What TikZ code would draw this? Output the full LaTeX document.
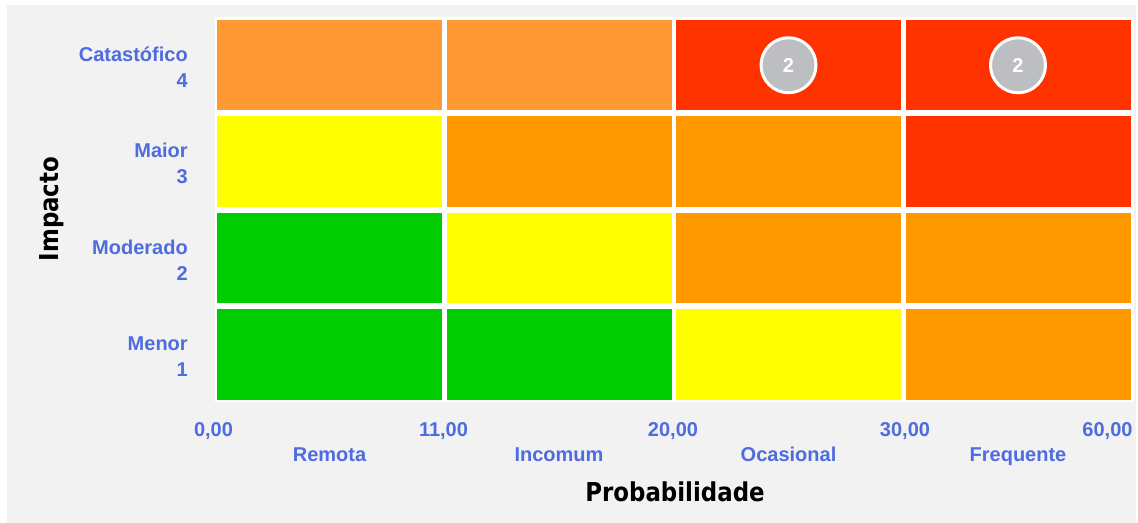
\documentclass[tikz,border=0pt]{standalone}
\usepackage{fontspec}
\setmainfont{Liberation Sans}
\newfontfamily\titlefont[FakeStretch=0.88]{DejaVu Sans}
\definecolor{bggray}{RGB}{242,242,242}
\definecolor{axisblue}{RGB}{78,108,224}
\definecolor{lightorange}{RGB}{255,153,51}
\definecolor{riskred}{RGB}{255,51,0}
\definecolor{riskyellow}{RGB}{255,255,0}
\definecolor{riskorange}{RGB}{255,153,0}
\definecolor{riskgreen}{RGB}{0,204,0}
\definecolor{badgegray}{RGB}{189,190,194}

\begin{document}
\begin{tikzpicture}[x=0.75pt, y=0.75pt]
\tikzstyle{every node}+=[inner sep=0pt]
\tikzstyle{axislabel}=[font=\fontsize{15}{19.5}\selectfont\bfseries, text=axisblue]
\tikzstyle{ticklabel}=[axislabel, anchor=base]
\tikzstyle{rowlabel}=[axislabel, anchor=east, align=right]
\tikzstyle{title}=[font=\titlefont\fontsize{19.5}{24}\selectfont\bfseries, text=black]
\tikzstyle{badge}=[draw=white, line width=2.25pt, fill=badgegray]
\tikzstyle{badgetext}=[font=\fontsize{15}{16}\selectfont\bfseries, text=white]
\useasboundingbox (0,0) rectangle (1138,-523);
\fill [white] (0,0) rectangle (1138,-523);
\fill [bggray] (7,-5) rectangle (1136,-523);
\fill [white] (214.5,-17.5) rectangle (1133.5,-402.5);
% Catastofico
\fill [lightorange] (217,-20) rectangle (442,-110.5);
\fill [lightorange] (446.5,-20) rectangle (671.5,-110.5);
\fill [riskred] (676,-20) rectangle (901,-110.5);
\fill [riskred] (905.5,-20) rectangle (1130.5,-110.5);
% Maior
\fill [riskyellow] (217,-116.5) rectangle (442,-207);
\fill [riskorange] (446.5,-116.5) rectangle (671.5,-207);
\fill [riskorange] (676,-116.5) rectangle (901,-207);
\fill [riskred] (905.5,-116.5) rectangle (1130.5,-207);
% Moderado
\fill [riskgreen] (217,-213) rectangle (442,-303.5);
\fill [riskyellow] (446.5,-213) rectangle (671.5,-303.5);
\fill [riskorange] (676,-213) rectangle (901,-303.5);
\fill [riskorange] (905.5,-213) rectangle (1130.5,-303.5);
% Menor
\fill [riskgreen] (217,-309.5) rectangle (442,-400);
\fill [riskgreen] (446.5,-309.5) rectangle (671.5,-400);
\fill [riskyellow] (676,-309.5) rectangle (901,-400);
\fill [riskorange] (905.5,-309.5) rectangle (1130.5,-400);
% badges
\draw [badge] (788.5,-65.25) circle (27.5);
\draw (788.5,-65.25) node [badgetext] (badgeA) {2};
\draw [badge] (1018,-65.25) circle (27.5);
\draw (1018,-65.25) node [badgetext] (badgeB) {2};
% impacto axis
\draw (188,-67) node [rowlabel] (imp4) {Catastófico\\4};
\draw (188,-163.5) node [rowlabel] (imp3) {Maior\\3};
\draw (188,-260) node [rowlabel] (imp2) {Moderado\\2};
\draw (188,-356.5) node [rowlabel] (imp1) {Menor\\1};
\draw (52,-209) node [title, rotate=90] (impacto) {Impacto};
% probabilidade axis
\draw (213.5,-437) node [ticklabel] (prob0) {0,00};
\draw (443.5,-437) node [ticklabel] (prob11) {11,00};
\draw (673,-437) node [ticklabel] (prob20) {20,00};
\draw (905,-437) node [ticklabel] (prob30) {30,00};
\draw (1107.5,-437) node [ticklabel] (prob60) {60,00};
\draw (329.5,-461.5) node [ticklabel] (remota) {Remota};
\draw (559,-461.5) node [ticklabel] (incomum) {Incomum};
\draw (788.5,-461.5) node [ticklabel] (ocasional) {Ocasional};
\draw (1018,-461.5) node [ticklabel] (frequente) {Frequente};
\draw (675,-501.5) node [title, anchor=base] (probabilidade) {Probabilidade};
\end{tikzpicture}
\end{document}
